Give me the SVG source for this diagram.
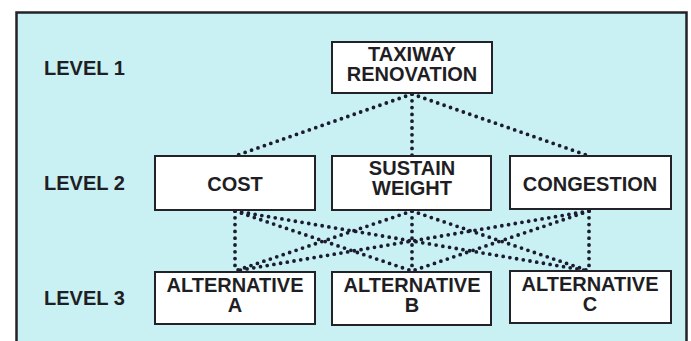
<svg xmlns="http://www.w3.org/2000/svg" width="691" height="341" viewBox="0 0 691 341">
  <style>
    .frame { fill: #c9f0f3; stroke: #222228; stroke-width: 2.5; }
    .box { fill: #ffffff; stroke: #222228; stroke-width: 2; }
    .t { font-family: "Liberation Sans", Arial, sans-serif; font-weight: bold; font-size: 20px; fill: #1e1e24; }
    .mid { text-anchor: middle; }
    .dots { fill: none; stroke: #1c1c30; stroke-width: 3.8; stroke-linecap: round; stroke-dasharray: 0 6.8; }
  </style>

  <rect width="691" height="341" fill="#ffffff"/>
  <rect class="frame" x="16.5" y="12.5" width="670" height="345"/>

  <!-- level labels -->
  <g id="level-labels">
    <text class="t" x="44" y="75">LEVEL 1</text>
    <text class="t" x="44" y="190">LEVEL 2</text>
    <text class="t" x="44" y="305">LEVEL 3</text>
  </g>

  <!-- dotted links between levels -->
  <g id="connectors">
    <line class="dots" x1="412" y1="94" x2="235" y2="156"/>
    <line class="dots" x1="412" y1="94" x2="412" y2="156"/>
    <line class="dots" x1="412" y1="94" x2="589" y2="156"/>

    <line class="dots" x1="235" y1="211" x2="235" y2="271"/>
    <line class="dots" x1="235" y1="211" x2="412" y2="271"/>
    <line class="dots" x1="235" y1="211" x2="589" y2="271"/>
    <line class="dots" x1="412" y1="211" x2="235" y2="271"/>
    <line class="dots" x1="412" y1="211" x2="412" y2="271"/>
    <line class="dots" x1="412" y1="211" x2="589" y2="271"/>
    <line class="dots" x1="589" y1="211" x2="235" y2="271"/>
    <line class="dots" x1="589" y1="211" x2="412" y2="271"/>
    <line class="dots" x1="589" y1="211" x2="589" y2="271"/>
  </g>

  <g id="taxiway-renovation">
    <rect class="box" x="332" y="42" width="160" height="51"/>
    <text class="t mid" x="412" y="61">TAXIWAY</text>
    <text class="t mid" x="412" y="81">RENOVATION</text>
  </g>

  <g id="cost">
    <rect class="box" x="155" y="156" width="160" height="54"/>
    <text class="t mid" x="235" y="191">COST</text>
  </g>
  <g id="sustain-weight">
    <rect class="box" x="332" y="156" width="159" height="54"/>
    <text class="t mid" x="412" y="175">SUSTAIN</text>
    <text class="t mid" x="412" y="195">WEIGHT</text>
  </g>
  <g id="congestion">
    <rect class="box" x="510" y="156" width="161" height="53"/>
    <text class="t mid" x="590" y="191">CONGESTION</text>
  </g>

  <g id="alternative-a">
    <rect class="box" x="155" y="272" width="160" height="52"/>
    <text class="t mid" x="235" y="292">ALTERNATIVE</text>
    <text class="t mid" x="235" y="312">A</text>
  </g>
  <g id="alternative-b">
    <rect class="box" x="332" y="272" width="159" height="53"/>
    <text class="t mid" x="412" y="292">ALTERNATIVE</text>
    <text class="t mid" x="412" y="312">B</text>
  </g>
  <g id="alternative-c">
    <rect class="box" x="510" y="271" width="161" height="52"/>
    <text class="t mid" x="590" y="291">ALTERNATIVE</text>
    <text class="t mid" x="590" y="311">C</text>
  </g>
</svg>
